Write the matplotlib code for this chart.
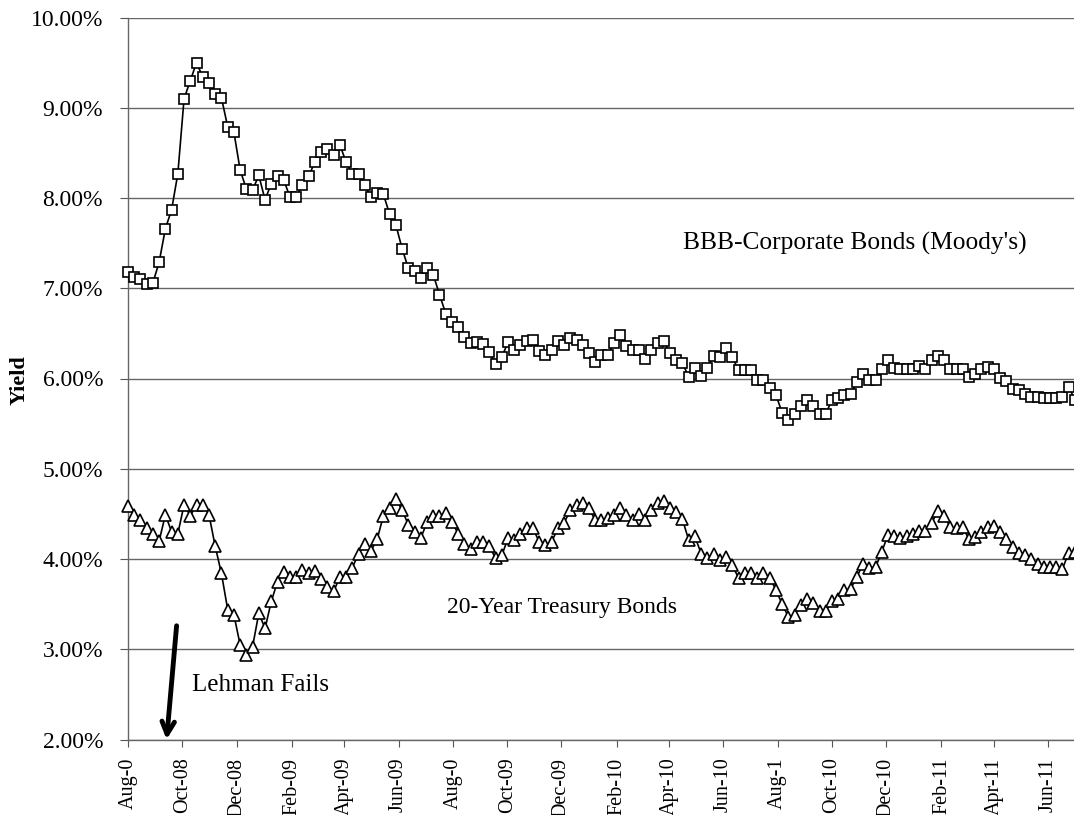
import pandas as pd
import matplotlib
matplotlib.use('Agg')
import matplotlib.pyplot as plt
from matplotlib.ticker import FuncFormatter

plt.rcParams['font.family'] = ['Liberation Serif', 'DejaVu Serif']

# weekly yields, %, starting first Friday of Aug 2008
bbb = [7.18, 7.12, 7.10, 7.05, 7.06, 7.29, 7.66, 7.87, 8.27, 9.10,
       9.30, 9.50, 9.34, 9.27, 9.15, 9.11, 8.79, 8.73, 8.31, 8.10,
       8.09, 8.25, 7.98, 8.16, 8.24, 8.20, 8.01, 8.01, 8.14, 8.24,
       8.40, 8.51, 8.54, 8.48, 8.59, 8.40, 8.27, 8.27, 8.14, 8.01,
       8.05, 8.04, 7.82, 7.70, 7.44, 7.22, 7.19, 7.11, 7.22, 7.15,
       6.93, 6.72, 6.63, 6.57, 6.46, 6.39, 6.40, 6.38, 6.29, 6.16,
       6.24, 6.40, 6.32, 6.37, 6.41, 6.43, 6.30, 6.26, 6.32, 6.41,
       6.37, 6.45, 6.43, 6.37, 6.28, 6.18, 6.26, 6.26, 6.39, 6.48,
       6.36, 6.32, 6.32, 6.22, 6.32, 6.39, 6.41, 6.28, 6.20, 6.17,
       6.02, 6.12, 6.03, 6.12, 6.25, 6.24, 6.34, 6.24, 6.09, 6.09,
       6.09, 5.98, 5.98, 5.90, 5.82, 5.62, 5.54, 5.61, 5.70, 5.76,
       5.70, 5.61, 5.61, 5.76, 5.78, 5.82, 5.83, 5.96, 6.05, 5.98,
       5.98, 6.10, 6.20, 6.12, 6.11, 6.11, 6.11, 6.14, 6.11, 6.20,
       6.25, 6.21, 6.10, 6.11, 6.11, 6.02, 6.05, 6.10, 6.13, 6.10,
       6.01, 5.97, 5.88, 5.87, 5.83, 5.80, 5.79, 5.78, 5.78, 5.78,
       5.79, 5.91, 5.76]

treasury = [4.59, 4.49, 4.43, 4.34, 4.28, 4.20, 4.49, 4.30, 4.28, 4.60,
            4.48, 4.60, 4.60, 4.49, 4.14, 3.84, 3.44, 3.38, 3.05, 2.94,
            3.03, 3.40, 3.23, 3.53, 3.75, 3.86, 3.80, 3.80, 3.88, 3.85,
            3.87, 3.78, 3.69, 3.64, 3.80, 3.80, 3.90, 4.06, 4.17, 4.09,
            4.22, 4.48, 4.56, 4.67, 4.54, 4.38, 4.30, 4.23, 4.41, 4.48,
            4.48, 4.51, 4.41, 4.28, 4.17, 4.11, 4.19, 4.19, 4.14, 4.01,
            4.04, 4.23, 4.21, 4.28, 4.34, 4.34, 4.19, 4.16, 4.19, 4.34,
            4.40, 4.54, 4.60, 4.62, 4.56, 4.43, 4.43, 4.45, 4.49, 4.56,
            4.49, 4.43, 4.50, 4.43, 4.54, 4.62, 4.64, 4.56, 4.52, 4.44,
            4.21, 4.25, 4.06, 4.01, 4.06, 3.99, 4.02, 3.93, 3.79, 3.84,
            3.84, 3.79, 3.85, 3.79, 3.66, 3.50, 3.36, 3.38, 3.49, 3.56,
            3.51, 3.42, 3.42, 3.53, 3.56, 3.66, 3.67, 3.80, 3.95, 3.90,
            3.91, 4.08, 4.27, 4.25, 4.23, 4.26, 4.28, 4.31, 4.31, 4.40,
            4.53, 4.48, 4.35, 4.34, 4.35, 4.22, 4.24, 4.30, 4.36, 4.37,
            4.30, 4.22, 4.13, 4.07, 4.04, 4.00, 3.95, 3.91, 3.91, 3.91,
            3.89, 4.07, 4.08]

dates = pd.date_range('2008-08-01', periods=len(bbb), freq='7D')

tick_dates = pd.date_range('2008-08-01', '2011-06-01', freq='2MS')
tick_labels = ['Aug-0', 'Oct-08', 'Dec-08', 'Feb-09', 'Apr-09', 'Jun-09',
               'Aug-0', 'Oct-09', 'Dec-09', 'Feb-10', 'Apr-10', 'Jun-10',
               'Aug-1', 'Oct-10', 'Dec-10', 'Feb-11', 'Apr-11', 'Jun-11']

fig = plt.figure(figsize=(10.74, 8.15), dpi=100)
ax = fig.add_axes([128 / 1074, 1 - 739.5 / 815, 1 - 128 / 1074, 722 / 815])

ax.plot(dates, bbb, color='black', lw=1.2, marker='s', markersize=7.2,
        markerfacecolor='white', markeredgecolor='black', markeredgewidth=1.2,
        clip_on=False, zorder=3)
ax.plot(dates, treasury, color='black', lw=1.2, marker='^', markersize=8.2,
        markerfacecolor='white', markeredgecolor='black', markeredgewidth=1.2,
        clip_on=False, zorder=3)

ax.set_ylim(2, 10)
ax.set_yticks(range(2, 11))
ax.yaxis.set_major_formatter(FuncFormatter(lambda v, p: '%.2f%%' % v))
ax.set_xlim(dates[0], dates[0] + pd.Timedelta(weeks=151.85))
ax.set_xticks(tick_dates)
ax.set_xticklabels(tick_labels, rotation=90, fontsize=14.5)
ax.tick_params(axis='y', labelsize=17, length=6, color='#555555', pad=12)
ax.tick_params(axis='x', length=5, color='#555555', pad=8)

ax.grid(axis='y', color='#666666', lw=1.0)
ax.set_axisbelow(True)
for s in ['top', 'right']:
    ax.spines[s].set_visible(False)
for s in ['left', 'bottom']:
    ax.spines[s].set_color('#666666')
    ax.spines[s].set_linewidth(1.0)

fig.text(20 / 1074, 1 - 380 / 815, 'Yield', rotation=90, fontsize=16,
         fontweight='bold', ha='center', va='center')

ax.text(dates[0] + pd.Timedelta(weeks=89.1), 7.5, "BBB-Corporate Bonds (Moody's)",
        fontsize=18.3, ha='left', va='center')
ax.text(dates[0] + pd.Timedelta(weeks=51.2), 3.46, '20-Year Treasury Bonds',
        fontsize=17, ha='left', va='center')
ax.text(dates[0] + pd.Timedelta(weeks=10.3), 2.60, 'Lehman Fails',
        fontsize=18, ha='left', va='center')
ax.annotate('', xy=(dates[0] + pd.Timedelta(weeks=6.2), 2.0),
            xytext=(dates[0] + pd.Timedelta(weeks=7.8), 3.26),
            arrowprops=dict(arrowstyle='->,head_length=0.9,head_width=0.45',
                            lw=3.5, color='black', shrinkA=0, shrinkB=0),
            annotation_clip=False)

fig.savefig('out.png', dpi=100)
